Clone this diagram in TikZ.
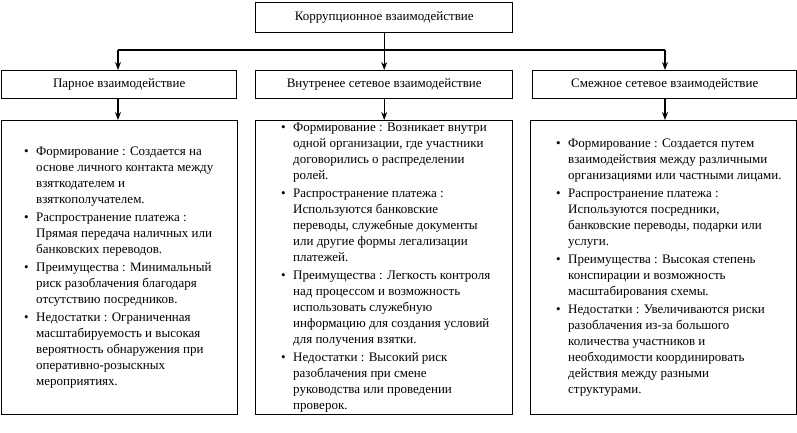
\documentclass[tikz,border=0pt]{standalone}
\usepackage{fontspec}
\setmainfont{Liberation Serif}
\usetikzlibrary{arrows.meta}
\newcommand\itm{\makebox[12pt][l]{•}}
\newcommand\ind{\hspace*{12pt}}
\begin{document}
\begin{tikzpicture}[x=1pt,y=-1pt,
  box/.style={draw=black, line width=1.4pt, inner sep=0pt, fill=white,
    font=\fontsize{13}{16}\selectfont},
  txt/.style={inner sep=0pt, align=left, anchor=west,
    font=\fontsize{13}{16}\selectfont},
  conn/.style={line width=1.2pt},
  arr/.style={line width=1.2pt, -{Stealth[length=8pt,width=6pt]}}]
\useasboundingbox (0,0) rectangle (797,433);
% top
\node[box, minimum width=257pt, minimum height=30pt, anchor=north west] (top) at (255,2) {Коррупционное взаимодействие};
% second row
\node[box, minimum width=235pt, minimum height=28pt, anchor=north west] (h1) at (1,70) {Парное взаимодействие};
\node[box, minimum width=257pt, minimum height=28pt, anchor=north west] (h2) at (255,70) {Внутренее сетевое взаимодействие};
\node[box, minimum width=264pt, minimum height=28pt, anchor=north west] (h3) at (532,70) {Смежное сетевое взаимодействие};
% bottom boxes
\node[box, minimum width=236pt, minimum height=294pt, anchor=north west] (b1) at (1,120) {};
\node[box, minimum width=257pt, minimum height=294pt, anchor=north west] (b2) at (255,120) {};
\node[box, minimum width=266pt, minimum height=294pt, anchor=north west] (b3) at (530,120) {};
% connectors
\coordinate (jl) at (118,50);
\coordinate (jr) at (665,50);
\draw[conn] (top.south) -- (top.south |- jl);
\draw[conn] (jl) -- (jr);
\draw[arr] (jl) -- (h1.north -| jl);
\draw[arr] (top.south |- jl) -- (h2.north -| top.south);
\draw[arr] (jr) -- (h3.north -| jr);
\draw[arr] (h1.south -| jl) -- (b1.north -| jl);
\draw[arr] (h2.south -| top.south) -- (b2.north -| top.south);
\draw[arr] (h3.south -| jr) -- (b3.north -| jr);
% texts
\node[txt] (t1) at ([xshift=23pt]b1.west) {%
\itm Формирование : Создается на\\
\ind основе личного контакта между\\
\ind взяткодателем и\\
\ind взяткополучателем.\\[2pt]
\itm Распространение платежа :\\
\ind Прямая передача наличных или\\
\ind банковских переводов.\\[2pt]
\itm Преимущества : Минимальный\\
\ind риск разоблачения благодаря\\
\ind отсутствию посредников.\\[2pt]
\itm Недостатки : Ограниченная\\
\ind масштабируемость и высокая\\
\ind вероятность обнаружения при\\
\ind оперативно-розыскных\\
\ind мероприятиях.};
\node[txt] (t2) at ([xshift=26pt]b2.west) {%
\itm Формирование : Возникает внутри\\
\ind одной организации, где участники\\
\ind договорились о распределении\\
\ind ролей.\\[2pt]
\itm Распространение платежа :\\
\ind Используются банковские\\
\ind переводы, служебные документы\\
\ind или другие формы легализации\\
\ind платежей.\\[2pt]
\itm Преимущества : Легкость контроля\\
\ind над процессом и возможность\\
\ind использовать служебную\\
\ind информацию для создания условий\\
\ind для получения взятки.\\[2pt]
\itm Недостатки : Высокий риск\\
\ind разоблачения при смене\\
\ind руководства или проведении\\
\ind проверок.};
\node[txt] (t3) at ([xshift=26pt]b3.west) {%
\itm Формирование : Создается путем\\
\ind взаимодействия между различными\\
\ind организациями или частными лицами.\\[2pt]
\itm Распространение платежа :\\
\ind Используются посредники,\\
\ind банковские переводы, подарки или\\
\ind услуги.\\[2pt]
\itm Преимущества : Высокая степень\\
\ind конспирации и возможность\\
\ind масштабирования схемы.\\[2pt]
\itm Недостатки : Увеличиваются риски\\
\ind разоблачения из-за большого\\
\ind количества участников и\\
\ind необходимости координировать\\
\ind действия между разными\\
\ind структурами.};
\end{tikzpicture}
\end{document}
